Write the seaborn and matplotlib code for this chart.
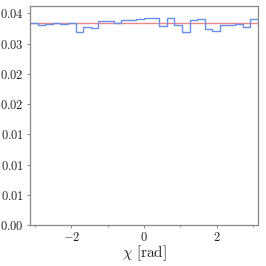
import numpy as np
import pandas as pd
import seaborn as sns
import matplotlib
matplotlib.use("Agg")
import matplotlib.pyplot as plt
from matplotlib.ticker import FuncFormatter, MultipleLocator

# Bin contents (fraction per bin), 30 bins over [-pi, pi]
bin_values = [0.03344, 0.03306, 0.03322, 0.03339, 0.03322, 0.03344, 0.03196, 0.03278,
              0.03256, 0.03366, 0.03366, 0.03339, 0.03394, 0.03394, 0.03410, 0.03416,
              0.03416, 0.03284, 0.03421, 0.03311, 0.03185, 0.03394, 0.03405, 0.03240,
              0.03212, 0.03311, 0.03311, 0.03322, 0.03278, 0.03405]
n_bins = 30
expected = 1.0 / n_bins
x_label = r"$\chi\ \mathrm{[rad]}$"

edges = np.linspace(-np.pi, np.pi, n_bins + 1)
centers = 0.5 * (edges[:-1] + edges[1:])
df = pd.DataFrame({"chi": centers, "w": bin_values})

sns.set_theme(style="white")
plt.rcParams["mathtext.fontset"] = "cm"
plt.rcParams["font.family"] = ["DejaVu Serif"]

fig = plt.figure(figsize=(2.66, 2.66), dpi=100)
ax = fig.add_axes([0.113, 0.154, 0.857, 0.823])

sns.histplot(data=df, x="chi", weights="w", bins=n_bins, binrange=(-np.pi, np.pi),
             element="step", fill=False, color="#6a8ee8", linewidth=1.0, ax=ax)
ax.axhline(expected, color="#ee8888", linewidth=1.0, zorder=1)

ax.set_xlim(-np.pi, np.pi)
ax.set_ylim(0, 0.0362)
ax.yaxis.set_major_locator(MultipleLocator(0.005))
ax.xaxis.set_major_locator(MultipleLocator(2))
ax.xaxis.set_minor_locator(MultipleLocator(1))
ax.yaxis.set_major_formatter(FuncFormatter(lambda v, p: "$%.2f$" % v))
ax.xaxis.set_major_formatter(FuncFormatter(lambda v, p: "$%d$" % round(v)))
ax.tick_params(axis="both", which="major", labelsize=9, length=2.5, width=0.6,
               color="#777777", direction="out", pad=2, left=True, bottom=True)
ax.tick_params(axis="x", which="minor", length=1.5, width=0.5, color="#777777",
               bottom=True)
for s in ax.spines.values():
    s.set_color("#888888")
    s.set_linewidth(0.9)
ax.set_xlabel(x_label, fontsize=11, labelpad=-1)
ax.set_ylabel("")

fig.savefig("out.png", dpi=100)
